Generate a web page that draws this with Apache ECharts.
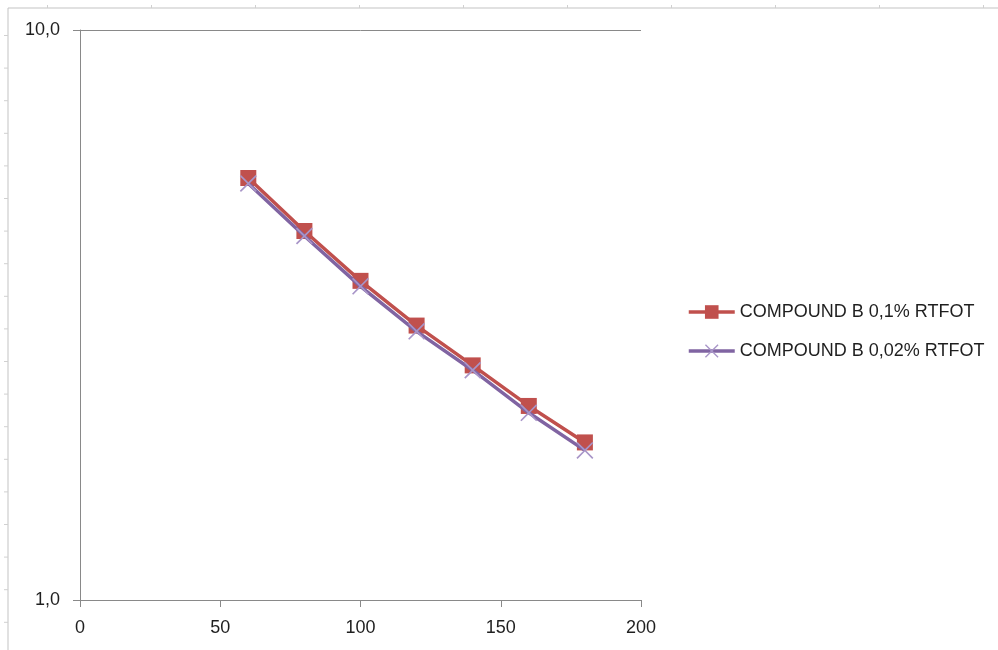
<!DOCTYPE html>
<html>
<head>
<meta charset="utf-8">
<script src="https://cdn.jsdelivr.net/npm/echarts@6/dist/echarts.min.js"></script>
<style>
  html, body { margin: 0; padding: 0; background: #fff; }
  #chart { width: 998px; height: 650px; }
</style>
</head>
<body>
<div id="chart"></div>
<script>
// Temperatures (x) and measured values (log y) for the two compounds
const temps = [60, 80, 100, 120, 140, 160, 180];
const seriesNames = ['COMPOUND B 0,1% RTFOT', 'COMPOUND B 0,02% RTFOT'];
const compoundB01 = [5.50, 4.44, 3.63, 3.03, 2.58, 2.19, 1.89];
const compoundB002 = [5.38, 4.35, 3.55, 2.96, 2.53, 2.13, 1.83];
const xTicks = [0, 50, 100, 150, 200];
const yRange = [1, 10];

const W = 998, H = 650;
const textColor = '#1f1f1f';
const axisGray = '#898989';
const frameGray = '#c3c3c3';
const red = '#C0504D';
const purple = '#8064A2';

// Thin diagonal cross used as the marker of the second series
const crossPath = 'path://M0,0.07L0.07,0L0.5,0.43L0.93,0L1,0.07L0.57,0.5L1,0.93L0.93,1L0.5,0.57L0.07,1L0,0.93L0.43,0.5Z';

// Worksheet frame around the chart: a top and a left edge with small ticks
const frame = [
  { type: 'line', shape: { x1: 8, y1: 8, x2: W, y2: 8 }, style: { stroke: frameGray, lineWidth: 1 } },
  { type: 'line', shape: { x1: 8, y1: 8, x2: 8, y2: H }, style: { stroke: frameGray, lineWidth: 1 } }
];
for (let x = 47.5; x < W; x += 104) {
  frame.push({ type: 'line', shape: { x1: x, y1: 5, x2: x, y2: 8 }, style: { stroke: '#d0d0d0', lineWidth: 1 } });
}
for (let y = 35.5; y < H; y += 32.6) {
  frame.push({ type: 'line', shape: { x1: 4, y1: y, x2: 8, y2: y }, style: { stroke: '#d0d0d0', lineWidth: 1 } });
}

const chart = echarts.init(document.getElementById('chart'), null, { renderer: 'canvas' });
chart.setOption({
  animation: false,
  backgroundColor: '#fff',
  graphic: frame,
  grid: { left: 80, right: W - 641, top: 30, bottom: H - 600, containLabel: false },
  legend: {
    orient: 'vertical',
    left: 682,
    top: 298,
    itemWidth: 46,
    itemHeight: 17,
    itemGap: 21,
    textStyle: { fontFamily: 'Liberation Sans', fontSize: 18, color: textColor },
    data: [
      { name: seriesNames[0], lineStyle: { width: 3.5, color: red } },
      { name: seriesNames[1], lineStyle: { width: 3.5, color: purple } }
    ]
  },
  xAxis: {
    type: 'value',
    min: xTicks[0],
    max: xTicks[xTicks.length - 1],
    interval: 50,
    axisLine: { show: true, onZero: false, lineStyle: { color: axisGray, width: 1 } },
    axisTick: { show: true, inside: false, length: 7, lineStyle: { color: axisGray } },
    splitLine: { show: false },
    axisLabel: { margin: 19, fontFamily: 'Liberation Sans', fontSize: 18, color: textColor }
  },
  yAxis: {
    type: 'log',
    logBase: 10,
    min: yRange[0],
    max: yRange[1],
    axisLine: { show: true, lineStyle: { color: axisGray, width: 1 } },
    axisTick: { show: true, length: 7, lineStyle: { color: axisGray } },
    minorTick: { show: false },
    splitLine: { show: true, lineStyle: { color: axisGray, width: 1 } },
    axisLabel: {
      margin: 20,
      fontFamily: 'Liberation Sans',
      fontSize: 18,
      color: textColor,
      formatter: v => v.toFixed(1).replace('.', ',')
    }
  },
  series: [
    {
      name: seriesNames[0],
      type: 'line',
      data: temps.map((t, i) => [t, compoundB01[i]]),
      symbol: 'rect',
      symbolSize: 16,
      lineStyle: { color: red, width: 3.5 },
      itemStyle: { color: red },
      z: 2
    },
    {
      name: seriesNames[1],
      type: 'line',
      data: temps.map((t, i) => [t, compoundB002[i]]),
      symbol: crossPath,
      symbolSize: 17,
      lineStyle: { color: purple, width: 3.5 },
      itemStyle: { color: '#a895c8' },
      z: 3
    }
  ]
});
</script>
</body>
</html>
